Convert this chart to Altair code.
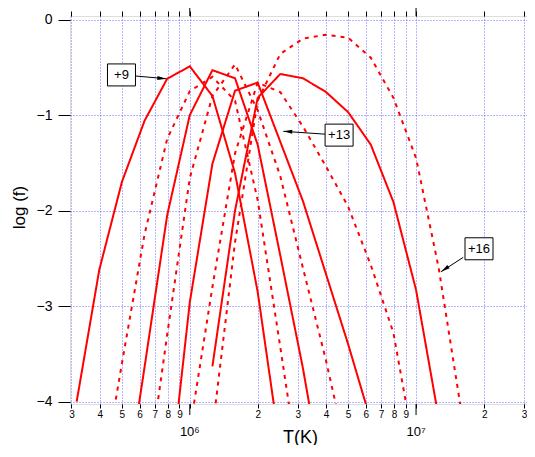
import altair as alt
import pandas as pd

# ---------------- data ----------------
ions = ["+9", "+10", "+11", "+12", "+13", "+14", "+15", "+16"]
styles = ["solid", "dashed", "solid", "dashed", "solid", "dashed", "solid", "dashed"]

logT_9 = [5.5, 5.6, 5.7, 5.8, 5.9, 6.0, 6.1, 6.2, 6.3, 6.4]
logf_9 = [-4.0, -2.62, -1.70, -1.06, -0.62, -0.49, -0.80, -1.61, -2.85, -4.5]

logT_10 = [5.6, 5.7, 5.8, 5.9, 6.0, 6.1, 6.2, 6.3, 6.4, 6.5]
logf_10 = [-5.0, -3.6, -2.25, -1.25, -0.75, -0.60, -0.85, -1.89, -3.43, -5.0]

logT_11 = [5.7, 5.8, 5.9, 6.0, 6.1, 6.2, 6.3, 6.4, 6.5, 6.6]
logf_11 = [-5.2, -3.64, -2.05, -1.0, -0.53, -0.615, -1.31, -2.47, -3.65, -5.0]

logT_12 = [5.8, 5.9, 6.0, 6.1, 6.2, 6.3, 6.4, 6.5, 6.6, 6.7]
logf_12 = [-5.0, -3.3, -1.66, -0.8, -0.47, -0.95, -1.64, -2.6, -3.55, -4.6]

logT_13 = [5.9, 6.0, 6.1, 6.2, 6.3, 6.4, 6.5, 6.6, 6.7, 6.8]
logf_13 = [-5.1, -2.96, -1.51, -0.745, -0.66, -1.28, -1.90, -2.65, -3.40, -4.2]

logT_14 = [6.0, 6.1, 6.2, 6.3, 6.4, 6.5, 6.6, 6.7, 6.8, 6.9, 7.0]
logf_14 = [-4.3, -2.8, -1.4, -0.66, -0.76, -1.12, -1.53, -1.96, -2.57, -3.28, -4.6]

logT_15 = [6.1, 6.2, 6.3, 6.4, 6.5, 6.6, 6.7, 6.8, 6.9, 7.0, 7.1]
logf_15 = [-3.63, -2.0, -0.82, -0.57, -0.615, -0.755, -0.97, -1.31, -1.91, -2.83, -4.17]

logT_16 = [6.1, 6.2, 6.3, 6.4, 6.5, 6.6, 6.7, 6.8, 6.9, 7.0, 7.1, 7.2]
logf_16 = [-4.3, -2.33, -0.85, -0.36, -0.20, -0.16, -0.19, -0.40, -0.82, -1.45, -2.6, -4.1]

series_logT = [logT_9, logT_10, logT_11, logT_12, logT_13, logT_14, logT_15, logT_16]
series_logf = [logf_9, logf_10, logf_11, logf_12, logf_13, logf_14, logf_15, logf_16]

x_ticks = [3e5, 4e5, 5e5, 6e5, 7e5, 8e5, 9e5, 1e6, 2e6, 3e6, 4e6, 5e6, 6e6, 7e6, 8e6, 9e6,
           1e7, 2e7, 3e7]
y_ticks = [-4, -3, -2, -1, 0]
major_T = [1e6, 1e7]
major_text = ["10\u2076", "10\u2077"]

ann_label = ["+9", "+13", "+16"]
ann_box_T = [4.99e5, 4.57e6, 1.898e7]
ann_box_f = [-0.58, -1.21, -2.40]
ann_from_T = [5.69e5, 3.96e6, 1.616e7]
ann_from_f = [-0.59, -1.20, -2.49]
ann_tip_T = [7.87e5, 2.59e6, 1.29e7]
ann_tip_f = [-0.62, -1.17, -2.64]
ann_angle = [5, 183, 146]

# ---------------- tables ----------------
rows = []
for ion, st, lt, lf in zip(ions, styles, series_logT, series_logf):
    for t, f in zip(lt, lf):
        rows.append({"ion": ion, "style": st, "T": 10 ** t, "logf": f})
curves = pd.DataFrame(rows)

ann = pd.DataFrame({
    "label": ann_label, "bT": ann_box_T, "bf": ann_box_f,
    "fT": ann_from_T, "ff": ann_from_f, "tT": ann_tip_T, "tf": ann_tip_f,
    "angle": ann_angle,
})
majors = pd.DataFrame({"T": major_T, "text": major_text})

# ---------------- scales ----------------
xscale = alt.Scale(type="log", domain=[2.955e5, 3.093e7], nice=False)
yscale = alt.Scale(domain=[-4.025, 0.037], nice=False, zero=False)
FONT = "Liberation Sans"
GRID = "#6c6cff"

label_expr = ("round(datum.value / pow(10, floor(log(datum.value) / LN10 + 1e-6))) == 1 ? '' : "
              "'' + round(datum.value / pow(10, floor(log(datum.value) / LN10 + 1e-6)))")

lines = alt.Chart(curves).mark_line(clip=True, color="#ff0000", strokeWidth=2).encode(
    x=alt.X("T:Q", scale=xscale,
            axis=alt.Axis(orient="bottom", values=x_ticks, labelExpr=label_expr,
                          labelFont=FONT, labelFontSize=10, labelColor="black",
                          labelPadding=1, labelFlush=False, labelOverlap=False, labelBound=False,
                          tickSize=4, tickColor="black", domain=False,
                          grid=True, gridColor=GRID, gridDash=[1, 2], gridWidth=1,
                          title="T(K)", titleFont=FONT, titleFontSize=18, titleFontWeight="normal",
                          titleColor="black", titleX=230, titleY=33, titleAlign="center",
                          titleBaseline="middle")),
    y=alt.Y("logf:Q", scale=yscale,
            axis=alt.Axis(orient="left", values=y_ticks, format="d",
                          labelFont=FONT, labelFontSize=14, labelColor="black",
                          labelPadding=6, tickSize=12, tickColor="black", domain=False,
                          grid=True, gridColor=GRID, gridDash=[1, 2], gridWidth=1,
                          title="log (f)", titleFont=FONT, titleFontSize=17,
                          titleFontWeight="normal", titleColor="black",
                          titleX=-51, titleY=191, titleAngle=270, titleAlign="center",
                          titleBaseline="middle")),
    detail="ion:N",
    strokeDash=alt.StrokeDash("style:N", scale=alt.Scale(domain=["solid", "dashed"],
                                                         range=[[1, 0], [4, 5]]), legend=None),
)

arrows = alt.Chart(ann).mark_rule(color="black", strokeWidth=1).encode(
    x=alt.X("fT:Q", scale=xscale,
            axis=alt.Axis(orient="top", values=x_ticks, labels=False, tickSize=5,
                          tickColor="black", domain=False, grid=False, title=None)),
    x2="tT:Q",
    y=alt.Y("ff:Q", scale=yscale,
            axis=alt.Axis(orient="right", values=y_ticks, labels=False, tickSize=7,
                          tickColor="black", domain=False, grid=False, title=None)),
    y2="tf:Q",
)

heads = alt.Chart(ann).mark_point(
    shape="M0,0L-4,-0.9L-4,0.9Z", filled=True, color="black", opacity=1, size=20
).encode(
    x=alt.X("tT:Q", scale=xscale, axis=None),
    y=alt.Y("tf:Q", scale=yscale, axis=None),
    angle=alt.Angle("angle:Q", scale=None),
)

boxes = alt.Chart(ann).mark_rect(
    fill="white", stroke="black", strokeWidth=1,
    xOffset=-14, x2Offset=14, yOffset=-11, y2Offset=11
).encode(
    x=alt.X("bT:Q", scale=xscale, axis=None), x2="bT:Q",
    y=alt.Y("bf:Q", scale=yscale, axis=None), y2="bf:Q",
)

box_text = alt.Chart(ann).mark_text(font=FONT, fontSize=13, color="black",
                                    align="center", baseline="middle").encode(
    x=alt.X("bT:Q", scale=xscale, axis=None),
    y=alt.Y("bf:Q", scale=yscale, axis=None),
    text="label:N",
)

major_bottom = alt.Chart(majors).mark_rule(color="black", strokeWidth=1).encode(
    x=alt.X("T:Q", scale=xscale, axis=None), y=alt.value(388), y2=alt.value(399))
major_top = alt.Chart(majors).mark_rule(color="black", strokeWidth=1).encode(
    x=alt.X("T:Q", scale=xscale, axis=None), y=alt.value(0), y2=alt.value(-8))
major_lbl = alt.Chart(majors).mark_text(font=FONT, fontSize=13, color="black",
                                        align="center", baseline="alphabetic").encode(
    x=alt.X("T:Q", scale=xscale, axis=None), y=alt.value(420), text="text:N")

chart = alt.layer(
    lines, arrows, heads, boxes, box_text, major_bottom, major_top, major_lbl
).resolve_axis(x="independent", y="independent").properties(
    width=457, height=388,
    autosize=alt.AutoSizeParams(type="none"),
    padding={"left": 62, "top": 8, "right": 0, "bottom": 41},
).configure_view(stroke="black", strokeWidth=1.5).configure(background="white")

chart.save("out.html", embed_options={"renderer": "svg", "actions": False})
